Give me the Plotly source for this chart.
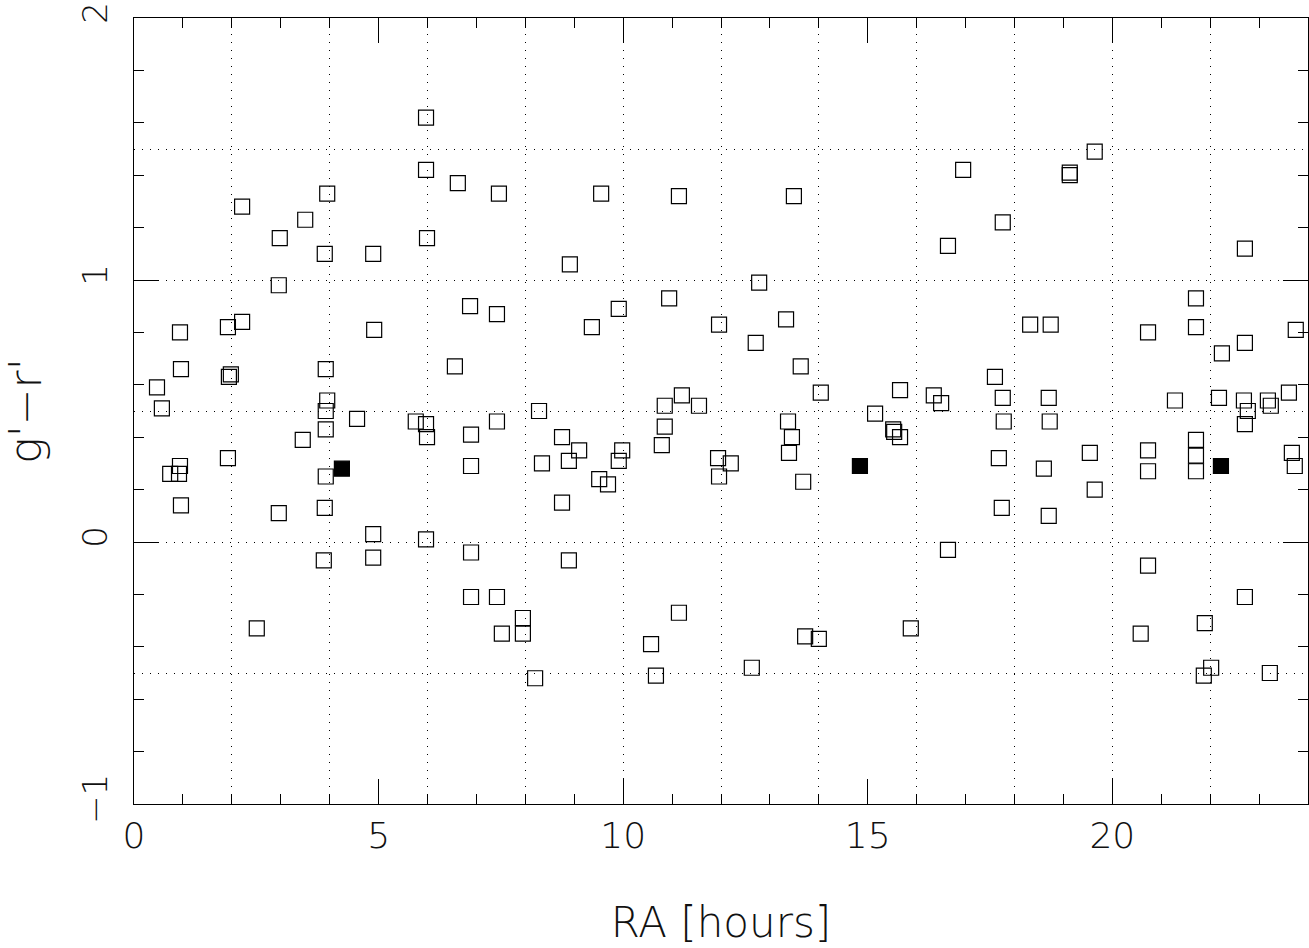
import plotly.graph_objects as go

# RA [hours] and g'-r' colour for the open squares
ra_open = [0.47, 0.57, 0.74, 0.94, 0.92, 0.96, 0.96, 0.94, 1.92, 2.21, 1.94, 1.98, 1.92,
           2.21, 2.51, 2.98, 2.96, 2.96, 3.50, 3.45, 3.95, 3.90, 3.92, 3.95, 3.92, 3.92,
           3.92, 3.90, 3.88, 4.56, 4.89, 4.91, 4.89, 4.89, 5.76, 5.97, 5.99, 5.97, 5.97,
           5.99, 5.97, 6.56, 6.62, 6.87, 6.89, 6.89, 6.89, 6.89, 7.42, 7.46, 7.42, 7.42,
           7.52, 7.95, 7.95, 8.20, 8.28, 8.34, 8.75, 8.75, 8.89, 8.89, 8.91, 9.10, 9.36,
           9.51, 9.55, 9.69, 9.91, 9.91, 9.98, 10.57, 10.67, 10.79, 10.85, 10.85, 10.94,
           11.14, 11.14, 11.20, 11.55, 11.94, 11.96, 11.96, 12.20, 12.63, 12.71, 12.78,
           13.33, 13.37, 13.45, 13.39, 13.49, 13.63, 13.68, 13.72, 14.00, 14.04, 15.15,
           15.54, 15.52, 15.66, 15.66, 15.88, 16.35, 16.50, 16.64, 16.64, 16.95, 17.60,
           17.68, 17.76, 17.78, 17.74, 17.76, 18.32, 18.74, 18.60, 18.70, 18.72, 18.70,
           19.13, 19.13, 19.54, 19.64, 19.64, 20.58, 20.73, 20.73, 20.73, 20.73, 21.28,
           21.71, 21.71, 21.71, 21.71, 21.71, 21.89, 22.02, 21.87, 22.18, 22.24, 22.71,
           22.71, 22.69, 22.77, 22.71, 22.71, 23.18, 23.24, 23.22, 23.61, 23.67, 23.73,
           23.75]
gr_open = [0.59, 0.51, 0.26, 0.29, 0.26, 0.14, 0.66, 0.80, 0.82, 0.84, 0.63, 0.64, 0.32,
           1.28, -0.33, 1.16, 0.98, 0.11, 1.23, 0.39, 1.33, 1.10, 0.66, 0.54, 0.50, 0.43,
           0.25, 0.13, -0.07, 0.47, 1.10, 0.81, 0.03, -0.06, 0.46, 0.45, 0.40, 1.62, 1.42,
           1.16, 0.01, 0.67, 1.37, 0.90, 0.41, 0.29, -0.04, -0.21, 0.87, 1.33, 0.46, -0.21,
           -0.35, -0.29, -0.35, -0.52, 0.50, 0.30, 0.40, 0.15, 0.31, -0.07, 1.06, 0.35, 0.82,
           0.24, 1.33, 0.22, 0.89, 0.31, 0.35, -0.39, -0.51, 0.37, 0.52, 0.44, 0.93,
           1.32, -0.27, 0.56, 0.52, 0.32, 0.83, 0.25, 0.30, -0.48, 0.76, 0.99,
           0.85, 0.46, 0.40, 0.34, 1.32, 0.67, 0.23, -0.36, -0.37, 0.57, 0.49,
           0.42, 0.43, 0.40, 0.58, -0.33, 0.56, 0.53, 1.13, -0.03, 1.42, 0.63,
           0.32, 0.55, 0.46, 0.13, 1.22, 0.83, 0.83, 0.28, 0.55, 0.46, 0.10,
           1.41, 1.40, 0.34, 0.20, 1.49, -0.35, 0.80, 0.35, 0.27, -0.09, 0.54,
           0.93, 0.82, 0.39, 0.33, 0.27, -0.31, -0.48, -0.51, 0.55, 0.72, 1.12,
           0.76, 0.54, 0.50, 0.45, -0.21, 0.54, 0.52, -0.50, 0.57, 0.34, 0.29,
           0.81]

# filled squares
ra_filled = [4.25, 14.84, 22.22]
gr_filled = [0.28, 0.29, 0.29]

x_ticks = [0, 5, 10, 15, 20]
y_ticks = [-1, 0, 1, 2]

FONT = "DejaVu Sans"
fig = go.Figure()
fig.add_trace(go.Scatter(
    x=ra_open, y=gr_open, mode="markers",
    marker=dict(symbol="square-open", size=15, color="black", line=dict(width=1.2, color="black")),
    showlegend=False, hoverinfo="skip"))
# filled squares are placed on the overlaid grid axes (same ranges) so the grid axes get drawn
fig.add_trace(go.Scatter(
    x=ra_filled, y=gr_filled, mode="markers", xaxis="x2", yaxis="y2",
    marker=dict(symbol="square", size=15, color="black", line=dict(width=1.2, color="black")),
    showlegend=False, hoverinfo="skip"))

fig.update_layout(
    width=1309, height=948,
    margin=dict(l=134, r=1, t=18, b=144),
    paper_bgcolor="white", plot_bgcolor="white",
    font=dict(family=FONT, size=36, color="#111", weight=200),
    xaxis=dict(
        range=[0, 24], tickvals=x_ticks, ticks="inside", ticklen=25, tickwidth=1,
        tickcolor="black", showline=True, linecolor="black", linewidth=1, mirror="ticks",
        showgrid=False, zeroline=False, ticklabeloverflow="allow", automargin=False,
        minor=dict(dtick=1, ticks="inside", ticklen=10, tickcolor="black", showgrid=False),
        title=dict(text="RA [hours]", standoff=52, font=dict(size=42)),
        tickfont=dict(size=36)),
    yaxis=dict(
        range=[-1, 2], tickvals=y_ticks, ticks="inside", ticklen=25, tickwidth=1,
        tickcolor="black", showline=True, linecolor="black", linewidth=1, mirror="ticks",
        showgrid=False, zeroline=False, tickangle=-90, ticklabelstandoff=12,
        ticklabeloverflow="allow", automargin=False,
        minor=dict(dtick=0.2, ticks="inside", ticklen=10, tickcolor="black", showgrid=False),
        title=dict(text="g'\u2212r'", standoff=20, font=dict(size=44)),
        tickfont=dict(size=34)),
    xaxis2=dict(
        range=[0, 24], dtick=2, overlaying="x", anchor="y2", showgrid=True,
        gridcolor="black", gridwidth=1, griddash="1px,7px", showticklabels=False,
        ticks="", zeroline=False, showline=False, automargin=False),
    yaxis2=dict(
        range=[-1, 2], dtick=0.5, overlaying="y", anchor="x2", showgrid=True,
        gridcolor="black", gridwidth=1, griddash="1px,7px", showticklabels=False,
        ticks="", zeroline=False, showline=False, automargin=False),
)

fig.write_html("out.html", config={"displayModeBar": False, "staticPlot": True},
               post_script="document.body.style.margin='0';")
